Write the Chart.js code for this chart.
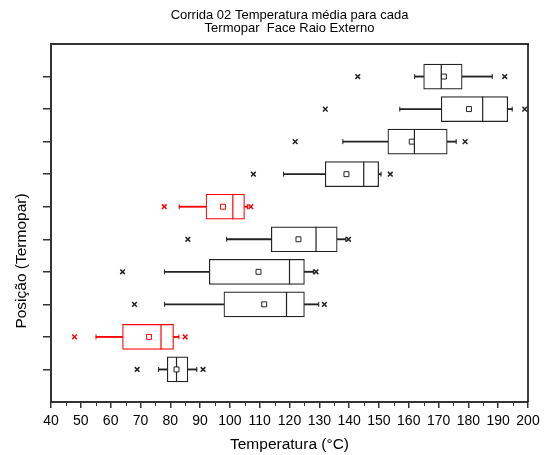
<!DOCTYPE html>
<html>
<head>
<meta charset="utf-8">
<script src="https://cdn.jsdelivr.net/npm/chart.js@4/dist/chart.umd.min.js"></script>
<style>html,body{margin:0;padding:0;background:#fff}canvas{display:block}</style>
</head>
<body>
<canvas id="c" width="553" height="455"></canvas>
<script>
// ---- text ----
const titleLines = ['Corrida 02 Temperatura média para cada', 'Termopar  Face Raio Externo'];
const xTitle = 'Temperatura (°C)';
const yTitle = 'Posição (Termopar)';

// ---- data (rows from bottom to top) ----
const positions   = [1, 2, 3, 4, 5, 6, 7, 8, 9, 10];
const outlierLow  = [68.9, 47.9, 68.0, 64.0, 85.9, 78.0, 107.9, 121.9, 132.0, 142.9];
const whiskerLow  = [76.1, 55.1, 78.1, 78.1, 98.9, 83.0, 118.0, 137.9, 157.0, 162.0];
const q1          = [79.0, 64.0, 98.0, 93.1, 113.9, 92.0, 132.0, 153.0, 170.9, 165.0];
const median      = [82.1, 76.9, 119.0, 120.0, 128.9, 101.0, 144.9, 161.9, 184.8, 170.9];
const mean        = [82.1, 72.9, 111.5, 109.6, 123.0, 97.7, 139.1, 161.0, 180.2, 171.8];
const q3          = [85.9, 81.1, 125.0, 125.0, 136.0, 104.9, 149.9, 172.9, 193.2, 177.9];
const whiskerHigh = [88.9, 82.9, 129.8, 128.0, 138.9, 105.9, 150.7, 175.9, 194.7, 188.0];
const outlierHigh = [91.0, 85.0, 131.7, 128.9, 139.8, 107.0, 153.8, 178.9, 198.9, 192.2];

// ---- ticks ----
const xTicks = [40, 50, 60, 70, 80, 90, 100, 110, 120, 130, 140, 150, 160, 170, 180, 190, 200];
const xMinorTicks = [45, 55, 65, 75, 85, 95, 105, 115, 125, 135, 145, 155, 165, 175, 185, 195];

// ---- style ----
const FONT = 'Arial, "Liberation Sans", Helvetica, sans-serif';
const BLACK = '#222222';
const RED = '#ff0000';
const redRows = [2, 6];
const rowColor = positions.map(p => redRows.includes(p) ? RED : BLACK);

const pts = (vals) => positions.map((p, i) => ({ x: vals[i], y: p }));
const pairPts = (a, b) => positions.flatMap((p, i) => [{ x: a[i], y: p }, { x: b[i], y: p }]);
const pairColors = positions.flatMap((p, i) => [rowColor[i], rowColor[i]]);

const framePlugin = {
  id: 'frame',
  afterDraw(chart) {
    const { ctx, chartArea: a, scales: { x } } = chart;
    ctx.save();
    ctx.strokeStyle = '#333';
    ctx.lineWidth = 2;
    ctx.beginPath();
    ctx.moveTo(a.left - 1, a.top);
    ctx.lineTo(a.right + 1, a.top);
    ctx.stroke();
    ctx.strokeStyle = '#000';
    ctx.lineWidth = 1.5;
    ctx.beginPath();
    ctx.moveTo(a.right, a.top);
    ctx.lineTo(a.right, a.bottom);
    ctx.stroke();
    ctx.strokeStyle = '#333';
    ctx.lineWidth = 1;
    xMinorTicks.forEach(v => {
      const px = Math.round(x.getPixelForValue(v)) + 0.5;
      ctx.beginPath();
      ctx.moveTo(px, a.bottom);
      ctx.lineTo(px, a.bottom + 4);
      ctx.stroke();
    });
    // y axis title
    ctx.translate(21.5, 261);
    ctx.rotate(-Math.PI / 2);
    ctx.fillStyle = '#000';
    ctx.font = '15.5px ' + FONT;
    ctx.textAlign = 'center';
    ctx.textBaseline = 'middle';
    ctx.fillText(yTitle, 0, 0);
    ctx.restore();
  }
};

new Chart(document.getElementById('c'), {
  type: 'scatter',
  data: {
    datasets: [
      { label: 'mean', data: pts(mean), pointStyle: 'rect', radius: 3.5, borderWidth: 1,
        pointBorderColor: rowColor, pointBackgroundColor: '#fff', order: 0 },
      { label: 'median', data: pts(median), pointStyle: 'line', rotation: 90, radius: 12.5, borderWidth: 1.2,
        pointBorderColor: rowColor, order: 1 },
      { label: 'caps', data: pairPts(whiskerLow, whiskerHigh), pointStyle: 'line', rotation: 90, radius: 2.5, borderWidth: 1,
        pointBorderColor: pairColors, order: 1 },
      { label: 'outliers', data: pairPts(outlierLow, outlierHigh), pointStyle: 'crossRot', radius: 3.3, borderWidth: 1.5,
        pointBorderColor: pairColors, order: 1 },
      { type: 'bar', label: 'box', indexAxis: 'y', grouped: false, data: positions.map((p, i) => ({ x: [q1[i], q3[i]], y: p })),
        barThickness: 25, borderWidth: 1.2, borderSkipped: false, borderColor: rowColor, backgroundColor: '#fff', order: 2 },
      { type: 'bar', label: 'whiskerLow', indexAxis: 'y', grouped: false, data: positions.map((p, i) => ({ x: [whiskerLow[i], q1[i]], y: p })),
        barThickness: 1.2, borderWidth: 0, backgroundColor: rowColor, order: 3 },
      { type: 'bar', label: 'whiskerHigh', indexAxis: 'y', grouped: false, data: positions.map((p, i) => ({ x: [q3[i], whiskerHigh[i]], y: p })),
        barThickness: 1.2, borderWidth: 0, backgroundColor: rowColor, order: 3 }
    ]
  },
  options: {
    responsive: false,
    animation: false,
    devicePixelRatio: 1,
    layout: { padding: { left: 0, right: 25, top: 0, bottom: 0 } },
    plugins: {
      legend: { display: false },
      tooltip: { enabled: false },
      title: {
        display: true, text: titleLines, color: '#000', fullSize: false,
        font: { family: FONT, size: 13, weight: 'normal', lineHeight: 0.95 },
        padding: { top: 9.5, bottom: 9.8 }
      }
    },
    scales: {
      x: {
        type: 'linear', min: 40, max: 200, offset: false,
        afterBuildTicks: s => { s.ticks = xTicks.map(v => ({ value: v })); },
        afterFit: s => { s.height = 53; },
        ticks: { font: { family: FONT, size: 14 }, color: '#000', padding: 5, maxRotation: 0, autoSkip: false },
        grid: { offset: false, drawOnChartArea: false, drawTicks: true, tickLength: 6, color: '#333', lineWidth: 1.5 },
        border: { display: true, color: '#333', width: 2 },
        title: { display: true, text: xTitle, color: '#000', font: { family: FONT, size: 15.5 }, padding: { top: 0, bottom: 1 } }
      },
      y: {
        type: 'linear', min: 0, max: 11, offset: false,
        afterBuildTicks: s => { s.ticks = positions.map(v => ({ value: v })); },
        afterFit: s => { s.width = 51; },
        ticks: { display: false },
        grid: { offset: false, drawOnChartArea: false, drawTicks: true, tickLength: 8, color: '#333', lineWidth: 1.5 },
        border: { display: true, color: '#333', width: 2 }
      }
    }
  },
  plugins: [framePlugin]
});
</script>
</body>
</html>
